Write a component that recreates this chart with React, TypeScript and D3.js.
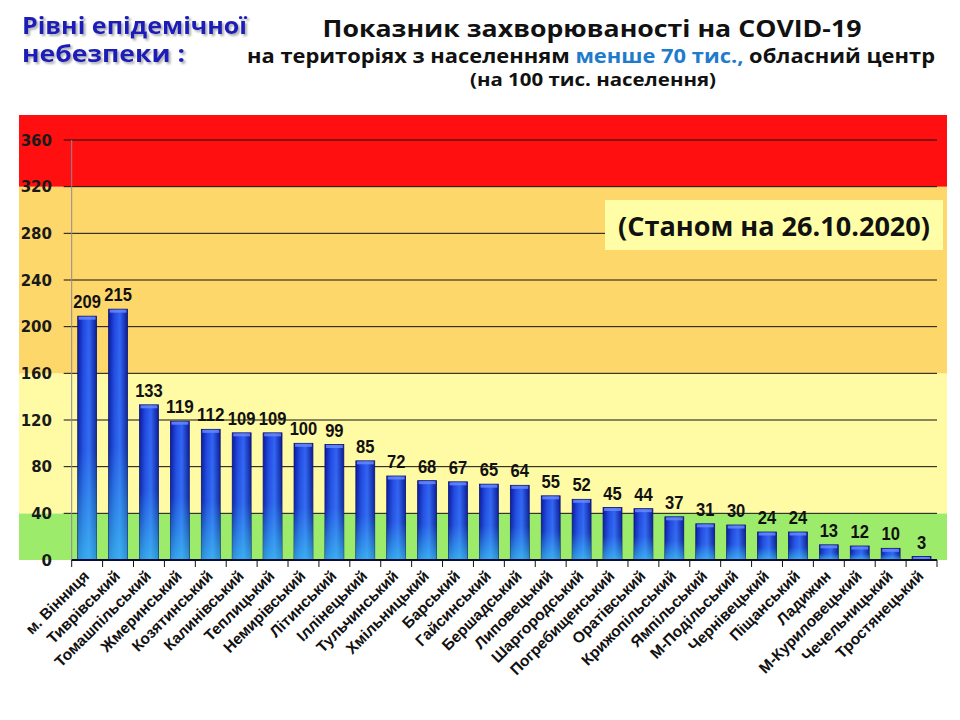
import React from "react";
import * as d3 from "d3";

const categories = [
  "м. Вінниця", "Тиврівський", "Томашпільський", "Жмеринський", "Козятинський",
  "Калинівський", "Теплицький", "Немирівський", "Літинський", "Іллінецький",
  "Тульчинський", "Хмільницький", "Барський", "Гайсинський", "Бершадський",
  "Липовецький", "Шаргородський", "Погребищенський", "Оратівський", "Крижопільський",
  "Ямпільський", "М-Подільський", "Чернівецький", "Піщанський", "Ладижин",
  "М-Куриловецький", "Чечельницький", "Тростянецький",
];
const values = [
  209, 215, 133, 119, 112, 109, 109, 100, 99, 85, 72, 68, 67, 65, 64, 55, 52,
  45, 44, 37, 31, 30, 24, 24, 13, 12, 10, 3,
];
const yTicks = [0, 40, 80, 120, 160, 200, 240, 280, 320, 360];
const zoneLimits = [0, 40, 160, 320, 360];
const zoneColors = ["#9DEB6B", "#FFFAA4", "#FDD76A", "#FF0F0F"];

const W = 960;
const H = 720;
const M = { left: 71.7, right: 937, top: 140, bottom: 560 };

export default function App() {
  const x = d3
    .scaleBand<string>()
    .domain(categories)
    .range([M.left, M.right])
    .paddingInner(0.39)
    .paddingOuter(0.195);
  const y = d3.scaleLinear().domain([0, 360]).range([M.bottom, M.top]);
  const step = x.step();
  const bgLeft = 19;
  const bgRight = 947;

  const boundaries = d3.range(categories.length + 1).map((i) => M.left + i * step);

  return (
    <svg
      width={W}
      height={H}
      viewBox={`0 0 ${W} ${H}`}
      style={{ position: "absolute", left: 0, top: 0, background: "#fff" }}
    >
      <defs>
        <linearGradient id="barH" x1="0" x2="1" y1="0" y2="0">
          <stop offset="0%" stopColor="#0A17A0" />
          <stop offset="30%" stopColor="#2247E0" />
          <stop offset="60%" stopColor="#3262F2" />
          <stop offset="100%" stopColor="#0C1A96" />
        </linearGradient>
        <linearGradient id="barV" x1="0" x2="0" y1="0" y2="1">
          <stop offset="0%" stopColor="#40D8F0" stopOpacity="0" />
          <stop offset="55%" stopColor="#40D8F0" stopOpacity="0.1" />
          <stop offset="100%" stopColor="#40D8F0" stopOpacity="0.65" />
        </linearGradient>
        <filter id="shadow" x="-5%" y="-20%" width="110%" height="150%">
          <feDropShadow dx="2" dy="2" stdDeviation="1" floodColor="#777" floodOpacity="0.6" />
        </filter>
      </defs>

      {/* zone backgrounds */}
      {zoneColors.map((c, i) => {
        const top = i === zoneColors.length - 1 ? M.top - 25 : y(zoneLimits[i + 1]);
        const bottom = y(zoneLimits[i]);
        return (
          <rect key={c} x={bgLeft} y={top} width={bgRight - bgLeft} height={bottom - top} fill={c} />
        );
      })}

      {/* gridlines */}
      {yTicks
        .filter((t) => t > 0)
        .map((t) => (
          <line key={t} x1={M.left - 8} x2={M.right} y1={y(t)} y2={y(t)} stroke="#111" strokeWidth={1} />
        ))}
      {/* y axis */}
      <line x1={M.left} x2={M.left} y1={M.top} y2={M.bottom} stroke="#8a8a9a" strokeWidth={1} />
      {yTicks.map((t) => (
        <text
          key={"yl" + t}
          x={52}
          y={y(t) + 5.5}
          textAnchor="end"
          fontFamily="DejaVu Sans"
          fontWeight="bold"
          fontSize={15}
          fill="#1a1a1a"
        >
          {t}
        </text>
      ))}

      {/* bars */}
      {values.map((v, i) => {
        const bx = x(categories[i])!;
        const bw = x.bandwidth();
        const by = y(v);
        const bh = y(0) - by;
        return (
          <g key={"b" + i}>
            <rect x={bx} y={by} width={bw} height={bh} fill="url(#barH)" stroke="#0A0F70" strokeWidth={0.8} />
            <rect x={bx} y={by} width={bw} height={bh} fill="url(#barV)" />
            <rect x={bx + 1} y={by + 0.5} width={bw - 2} height={Math.min(3, bh)} fill="#6A8CFF" opacity={0.8} />
          </g>
        );
      })}

      {/* x axis */}
      <line x1={M.left} x2={M.right} y1={M.bottom} y2={M.bottom} stroke="#0B0B3A" strokeWidth={2} />
      {boundaries.map((bx, i) => (
        <line key={"xt" + i} x1={bx} x2={bx} y1={M.bottom} y2={M.bottom + 7} stroke="#111" strokeWidth={1} />
      ))}

      {/* value labels */}
      {values.map((v, i) => (
        <text
          key={"v" + i}
          x={x(categories[i])! + x.bandwidth() / 2}
          y={y(v) - 8}
          textAnchor="middle"
          fontFamily="'Liberation Sans', Arial"
          fontWeight="bold"
          fontSize={19}
          textLength={String(v).length * 9.2}
          lengthAdjust="spacingAndGlyphs"
          fill="#111"
        >
          {v}
        </text>
      ))}

      {/* category labels */}
      {categories.map((c) => {
        const cx = x(c)! + x.bandwidth() / 2 + 3;
        const cy = M.bottom + 17;
        return (
          <text
            key={"c" + c}
            transform={`translate(${cx},${cy}) rotate(-45)`}
            textAnchor="end"
            fontFamily="'Liberation Sans', Arial"
            fontWeight="bold"
            fontSize={15.5}
            fill="#111"
          >
            {c}
          </text>
        );
      })}

      {/* date box */}
      <rect x={605} y={200} width={338} height={50} fill="#FFFEA6" />
      <text
        x={774}
        y={236}
        textAnchor="middle"
        fontFamily="'Open Sans', 'Noto Sans'"
        fontWeight="bold"
        fontSize={26}
        textLength={312}
        lengthAdjust="spacingAndGlyphs"
        fill="#111"
      >
        (Станом на 26.10.2020)
      </text>

      {/* titles */}
      <g filter="url(#shadow)" fontFamily="'Open Sans', 'Noto Sans'" fontWeight="bold" fill="#1A1DB8">
        <text x={22} y={34} fontSize={24} textLength={225} lengthAdjust="spacingAndGlyphs">
          Рівні епідемічної
        </text>
        <text x={22} y={62} fontSize={24} textLength={163} lengthAdjust="spacingAndGlyphs">
          небезпеки :
        </text>
      </g>
      <text
        x={592}
        y={37}
        textAnchor="middle"
        fontFamily="'Open Sans', 'Noto Sans'"
        fontWeight="bold"
        fontSize={23}
        textLength={539}
        lengthAdjust="spacingAndGlyphs"
        fill="#111"
      >
        Показник захворюваності на COVID-19
      </text>
      <text
        x={591}
        y={63}
        textAnchor="middle"
        fontFamily="'Open Sans', 'Noto Sans'"
        fontWeight="bold"
        fontSize={20}
        textLength={688}
        lengthAdjust="spacingAndGlyphs"
        fill="#111"
      >
        на територіях з населенням <tspan fill="#1F7BCB">менше 70 тис.,</tspan> обласний центр
      </text>
      <text
        x={593}
        y={86}
        textAnchor="middle"
        fontFamily="'Open Sans', 'Noto Sans'"
        fontWeight="bold"
        fontSize={18}
        textLength={246}
        lengthAdjust="spacingAndGlyphs"
        fill="#111"
      >
        (на 100  тис. населення)
      </text>
    </svg>
  );
}
